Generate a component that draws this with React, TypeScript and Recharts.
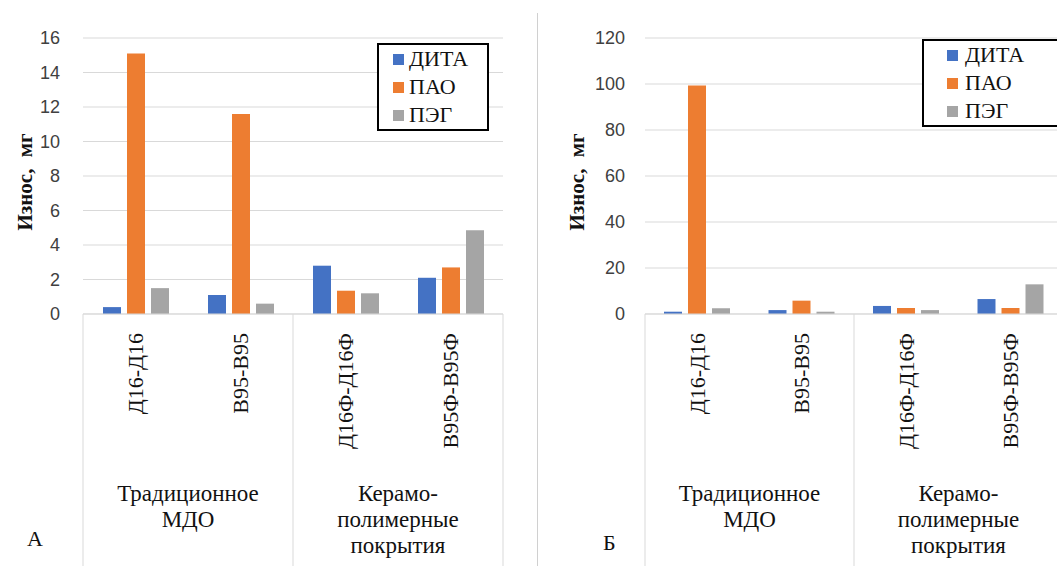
import React from "react";
import { BarChart, Bar, XAxis, YAxis, CartesianGrid, Legend } from "recharts";

const categories = ["Д16-Д16", "В95-В95", "Д16Ф-Д16Ф", "В95Ф-В95Ф"];
const groupOf = [0, 0, 1, 1];
const groupLabels = [["Традиционное", "МДО"], ["Керамо-", "полимерные", "покрытия"]];

const seriesNames = ["ДИТА", "ПАО", "ПЭГ"];
const seriesColors = ["#4472C4", "#ED7D31", "#A5A5A5"];

// panel А
const ditaA = [0.4, 1.1, 2.8, 2.1];
const paoA = [15.1, 11.6, 1.35, 2.7];
const pegA = [1.5, 0.6, 1.2, 4.85];
const ticksA = [0, 2, 4, 6, 8, 10, 12, 14, 16];

// panel Б
const ditaB = [1.0, 1.7, 3.5, 6.5];
const paoB = [99.3, 5.8, 2.6, 2.6];
const pegB = [2.5, 1.0, 1.7, 12.9];
const ticksB = [0, 20, 40, 60, 80, 100, 120];

const yTitle = "Износ, мг";

const grid = "#d9d9d9";
const serif = "Liberation Serif, DejaVu Serif, Noto Serif, Times New Roman, serif";
const sans = "Liberation Sans, Arial, sans-serif";
const AXIS_H = 252;

const build = (a: number[], b: number[], c: number[]) =>
  categories.map((name, i) => ({ name, dita: a[i], pao: b[i], peg: c[i] }));

function CatTick(props: any) {
  const { x, y, payload, index } = props;
  const half = payload?.offset || 52;
  const i = index;
  const g = groupOf[i];
  const start = i === 0 || groupOf[i - 1] !== g;
  const last = i === categories.length - 1;
  const count = groupOf.filter((v) => v === g).length;
  return (
    <g>
      {start && <line x1={x - half} x2={x - half} y1={y} y2={y + AXIS_H} stroke={grid} />}
      {last && <line x1={x + half} x2={x + half} y1={y} y2={y + AXIS_H} stroke={grid} />}
      <text
        x={x}
        y={y + 19}
        dy="0.35em"
        textAnchor="end"
        transform={`rotate(-90 ${x} ${y + 19})`}
        style={{ fontFamily: serif, fontSize: 22 }}
        fill="#111"
      >
        {payload.value}
      </text>
      {start &&
        groupLabels[g].map((t, k) => (
          <text key={k} x={x - half + count * half} y={y + 187 + k * 26} textAnchor="middle" style={{ fontFamily: serif, fontSize: 23 }} fill="#111">
            {t}
          </text>
        ))}
    </g>
  );
}

function LegendBox({ payload, squareLeft, gap, width }: any) {
  return (
    <div
      style={{
        border: "2px solid #000",
        background: "#fff",
        width,
        boxSizing: "border-box",
        padding: "0 0 0 " + squareLeft + "px",
      }}
    >
      {(payload || []).map((p: any, i: number) => (
        <div key={i} style={{ display: "flex", alignItems: "center", height: 28, fontFamily: serif, fontSize: 22, color: "#111" }}>
          <span style={{ display: "inline-block", width: 11, height: 11, background: p.color, marginRight: gap }} />
          {p.value}
        </div>
      ))}
    </div>
  );
}

function YTitle(props: any) {
  const { viewBox, cx } = props;
  const x = viewBox.x + cx;
  const y = viewBox.y + viewBox.height / 2 + 6;
  return (
    <text
      x={x}
      y={y}
      transform={`rotate(-90 ${x} ${y})`}
      textAnchor="middle"
      dy="0.35em"
      style={{ fontFamily: serif, fontWeight: "bold", fontSize: 21, wordSpacing: 6 }}
      fill="#111"
    >
      {yTitle}
    </text>
  );
}

function Panel({
  data,
  ticks,
  width,
  axisW,
  right,
  tickGap,
  titleX,
  legend,
}: {
  data: any[];
  ticks: number[];
  width: number;
  axisW: number;
  right: number;
  tickGap: number;
  titleX: number;
  legend: { left: number; top: number; squareLeft: number; gap: number; width: number };
}) {
  const keys = ["dita", "pao", "peg"];
  return (
    <BarChart width={width} height={566} data={data} margin={{ top: 38, right, bottom: 0, left: 0 }} barSize={18} barGap={6}>
      <CartesianGrid vertical={false} stroke={grid} />
      <XAxis dataKey="name" interval={0} height={AXIS_H} tickSize={0} tickMargin={0} tickLine={false} axisLine={{ stroke: grid }} tick={<CatTick />} />
      <YAxis
        domain={[ticks[0], ticks[ticks.length - 1]]}
        ticks={ticks}
        interval={0}
        width={axisW}
        axisLine={false}
        tickLine={false}
        tickSize={0}
        tickMargin={tickGap}
        tick={{ fontSize: 18, fill: "#404040", fontFamily: sans }}
        label={<YTitle cx={titleX} />}
      />
      <Legend
        layout="vertical"
        align="center"
        verticalAlign="middle"
        wrapperStyle={{ left: legend.left, top: legend.top, width: legend.width }}
        content={(p: any) => <LegendBox payload={p.payload} squareLeft={legend.squareLeft} gap={legend.gap} width={legend.width} />}
      />
      {keys.map((k, i) => (
        <Bar isAnimationActive={false} key={k} dataKey={k} name={seriesNames[i]} fill={seriesColors[i]} />
      ))}
    </BarChart>
  );
}

export default function App() {
  const dataA = build(ditaA, paoA, pegA);
  const dataB = build(ditaB, paoB, pegB);
  return (
    <div style={{ position: "absolute", left: 0, top: 0, width: 1057, height: 566, overflow: "hidden", background: "#fff" }}>
      <div style={{ position: "absolute", left: 0, top: 0 }}>
        <Panel
          data={dataA}
          ticks={ticksA}
          width={530}
          axisW={83}
          right={27}
          tickGap={23}
          titleX={25}
          legend={{ left: 377, top: 43, squareLeft: 14, gap: 5, width: 112 }}
        />
      </div>
      <div style={{ position: "absolute", left: 537, top: 13, width: 1, height: 553, background: "#d0d0d0" }} />
      <div style={{ position: "absolute", left: 530, top: 0 }}>
        <Panel
          data={dataB}
          ticks={ticksB}
          width={540}
          axisW={115}
          right={7}
          tickGap={20}
          titleX={47}
          legend={{ left: 392, top: 39, squareLeft: 23, gap: 7, width: 140 }}
        />
      </div>
      <div style={{ position: "absolute", left: 27, top: 526, fontFamily: serif, fontSize: 22, color: "#111" }}>А</div>
      <div style={{ position: "absolute", left: 603, top: 530, fontFamily: serif, fontSize: 22, color: "#111" }}>Б</div>
    </div>
  );
}
